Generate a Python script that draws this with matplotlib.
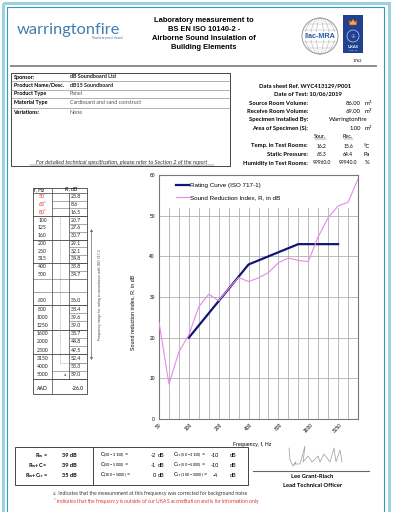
import numpy as np
import matplotlib
matplotlib.use("Agg")
import matplotlib.pyplot as plt
from matplotlib.patches import Rectangle, Circle, Ellipse, Polygon

plt.rcParams["font.family"] = ["Liberation Sans", "DejaVu Sans"]

# page size in pixels
W, H = 395, 512

# --- data ---
freqs = ["50", "63", "80", "100", "125", "160", "200", "250", "315", "400", "500",
         "630", "800", "1000", "1250", "1600", "2000", "2500", "3150", "4000", "5000"]
r_values = [23.8, 8.6, 16.5, 20.7, 27.6, 30.7, 29.1, 32.1, 34.8, 33.8, 34.7,
            36.0, 38.4, 39.6, 39.0, 38.7, 44.8, 49.5, 52.4, 53.3, 59.0]
rating_freqs = ["100", "125", "160", "200", "250", "315", "400", "500",
                "630", "800", "1000", "1250", "1600", "2000", "2500", "3150"]
rating_values = [20, 23, 26, 29, 32, 35, 38, 39, 40, 41, 42, 43, 43, 43, 43, 43]
tick_freqs = ["50", "100", "200", "400", "800", "1600", "3150"]
outside_ukas = ["50", "63", "80"]
bg_corrected = ["5000"]
aad = "-26.0"

sponsor_labels = ["Sponsor:", "Product Name/Desc.", "Product Type", "Material Type", "Variations:"]
sponsor_values = ["dB Soundboard Ltd", "dB15 Soundboard", "Panel",
                  "Cardboard and sand construct", "None"]

room_labels = ["Source Room Volume:", "Receive Room Volume:", "Specimen Installed By:",
               "Area of Specimen (S):"]
room_values = ["86.00", "69.00", "Warringtonfire", "1.00"]
room_units = ["m$^3$", "m$^3$", "", "m$^2$"]
cond_labels = ["Temp. in Test Rooms:", "Static Pressure:", "Humidity in Test Rooms:"]
cond_source = ["16.2", "65.3", "99960.0"]
cond_receive = ["15.6", "64.4", "99940.0"]
cond_units = ["°C", "Pa", "%"]

single_labels = [r"R$_\mathregular{w}$ =", r"R$_\mathregular{w}$+C =", r"R$_\mathregular{w}$+C$_\mathregular{tr}$ ="]
single_values = [39, 39, 35]
c_ranges = ["50 - 3150", "50 - 5000", "100 - 5000"]
c_values = [-2, -1, 0]
ctr_values = [-10, -10, -4]

BODY = ["Lato", "DejaVu Sans"]
GREY = "#555555"

fig = plt.figure(figsize=(W / 100, H / 100), dpi=100)
bg = fig.add_axes([0, 0, 1, 1])
bg.set_xlim(0, W)
bg.set_ylim(H, 0)
bg.axis("off")


def txt(x, y, s, size=4.2, family=BODY, **kw):
    kw.setdefault("va", "center")
    return bg.text(x, y, s, fontsize=size, family=family, **kw)


def hline(y, x0, x1, **kw):
    kw.setdefault("color", GREY)
    kw.setdefault("lw", 0.5)
    bg.plot([x0, x1], [y, y], **kw)


def vline(x, y0, y1, **kw):
    kw.setdefault("color", GREY)
    kw.setdefault("lw", 0.5)
    bg.plot([x, x], [y0, y1], **kw)


# page border
bg.add_patch(Rectangle((3, 3), W - 9, H + 20, fill=False, ec="#9fd0de", lw=2.2))
bg.add_patch(Rectangle((7, 7), W - 18, H + 20, fill=False, ec="#2f9db3", lw=0.8))

# --- header ---
txt(17, 30, "warringtonfire", size=11.8, color="#3f7db3", weight="normal")
txt(123, 38.5, "Proud to be part of  element", size=1.8, color="#4a6a9a", ha="right")

title = ["Laboratory measurement to", "BS EN ISO 10140-2 -",
         "Airborne Sound Insulation of", "Building Elements"]
for i, line in enumerate(title):
    txt(204, 20 + i * 9.2, line, size=5.4, family=["Liberation Sans"], weight="bold",
        ha="center")

# ilac-MRA badge
bg.add_patch(Circle((320, 36), 18, fill=False, ec="#8a8a8a", lw=0.6))
for w in (30, 18, 7):
    bg.add_patch(Ellipse((320, 36), w, 36, fill=False, ec="#a0a0a0", lw=0.3))
for dy in (-12, -6, 6, 12):
    half = np.sqrt(18 ** 2 - dy ** 2)
    hline(36 + dy, 320 - half, 320 + half, color="#a0a0a0", lw=0.3)
bg.add_patch(Rectangle((303, 32), 34, 8, fc="white", ec="none"))
txt(320, 36, "ilac-MRA", size=5.2, family=["Liberation Sans"], weight="bold",
    color="#2456a6", ha="center")

# UKAS badge
bg.add_patch(Rectangle((343, 15), 20, 38, fc="#1f418f", ec="none"))
bg.add_patch(Polygon([(349, 20), (351, 22), (353, 19), (355, 22), (357, 20),
                      (356.5, 25), (349.5, 25)], fc="#e8b04a", ec="#c0392b", lw=0.4))
bg.add_patch(Circle((353, 36), 6, fill=False, ec="#c8d4ee", lw=0.5))
txt(353, 36, "⁜", size=4, color="#c8d4ee", ha="center")
txt(353, 47, "UKAS", size=3.0, color="white", ha="center", weight="bold")
txt(353, 50.5, "TESTING", size=1.6, color="white", ha="center")
txt(357, 61, "1762", size=3.0, ha="center")

hline(66, 11, 376, color="#8c8c8c", lw=1.4)

# --- sponsor box ---
bg.add_patch(Rectangle((11, 72.5), 219, 93.5, fill=False, ec="#444444", lw=0.7))
sponsor_y = [77, 85.3, 93.6, 102.6, 112.5]
for y in (81.2, 89.5, 98, 107.8):
    hline(y, 11, 230, color="#777777", lw=0.4)
for i, (lab, val) in enumerate(zip(sponsor_labels, sponsor_values)):
    txt(13.5, sponsor_y[i], lab, weight="bold", size=3.9)
    txt(70, sponsor_y[i], val, weight="bold" if i < 2 else "normal", size=3.9,
        color="#222222" if i < 2 else "#555555")
txt(122, 162.5, "For detailed technical specification, please refer to Section 2 of the report",
    size=4.1, style="italic", ha="center", color="#333333")
hline(164.6, 30, 214, color="#333333", lw=0.3)

# --- test conditions (right column) ---
txt(305, 86, "Data sheet Ref. WYC413129/P001", weight="bold", ha="center")
txt(308, 94.5, "Date of Test: 10/06/2019", weight="bold", ha="center")
for i, y in enumerate([103.3, 111.7, 120, 128]):
    txt(308, y, room_labels[i], weight="bold", ha="right")
    if room_units[i]:
        txt(361, y, room_values[i], ha="right")
        txt(363.5, y, room_units[i], ha="left")
    else:
        txt(348, y, room_values[i], ha="center")
txt(320, 137, "Sour.", ha="center", size=3.9)
txt(348, 137, "Rec.", ha="center", size=3.9)
hline(139.3, 315, 326, color="#444444", lw=0.3)
hline(139.3, 343.5, 352.5, color="#444444", lw=0.3)
for i, y in enumerate([146, 154.5, 163]):
    txt(308, y, cond_labels[i], weight="bold", ha="right")
    txt(321.5, y, cond_source[i], ha="center", size=3.6)
    txt(348, y, cond_receive[i], ha="center", size=3.6)
    txt(367, y, cond_units[i], ha="center")

# --- frequency table ---
tx0, tx1, tx2, tx3 = 33, 52, 68.7, 87.3
top_rows = [192.7 + 7.8 * i for i in range(12)]       # 50 .. 500 boundaries
low_rows = [305 + 8.22 * i for i in range(10)]        # 800 .. 5000 boundaries
bounds = {}
for i, f in enumerate(freqs[:11]):
    bounds[f] = (top_rows[i], top_rows[i + 1])
bounds["630"] = (291.7, 305)
for i, f in enumerate(freqs[12:]):
    bounds[f] = (low_rows[i], low_rows[i + 1])
t_top, t_bot = 187.7, 394.3
bg.add_patch(Rectangle((tx0, t_top), tx3 - tx0, t_bot - t_top, fill=False,
                       ec="#444444", lw=0.6))
vline(tx1, t_top, t_bot, color="#444444")
vline(tx2, 192.7, 379, color="#444444")
hline(192.7, tx0, tx3, color="#444444")
txt(34.5, 190.2, "f, Hz", size=3.6, family=["Liberation Sans"])
txt(64, 190.2, r"$\it{R}$ ,dB", size=3.6, family=["Liberation Sans"])

dashed_freqs = freqs[3:19]
for i, f in enumerate(freqs):
    y0, y1 = bounds[f]
    yc = (y0 + y1) / 2 + (2 if f == "630" else 0)
    red = f in outside_ukas
    label = f + r"$^{*}$" if red else f
    txt(42.5, yc, label, size=3.7, ha="center", color="#d42020" if red else "#222222")
    txt(70.5, yc, f"{r_values[i]:.1f}", size=3.7, color="#222222")
    left = tx2 if f in dashed_freqs else tx1
    hline(y1, left, tx3, color="#666666", lw=0.4)
    if f in bg_corrected:
        txt(66.5, yc, "≥", size=3.2, ha="right")
for y in (216.1, 239.5, 262.9, 305, 329.7, 354.3, 379):
    hline(y, tx0, tx3, color="#444444", lw=0.6)
hline(278.5, tx0, tx3, color="#666666", lw=0.4)
hline(291.7, tx0, tx3, color="#666666", lw=0.4)
txt(42.5, 388, "AAD", size=3.7, ha="center")
txt(78, 388, aad, size=3.7, ha="center")
y_dash0, y_dash1 = bounds["100"][0], bounds["3150"][1]
vline(60.3, y_dash0, y_dash1, color="#777777", lw=0.4, ls=(0, (1.5, 1.5)))
hline(y_dash1, 60.3, tx3, color="#777777", lw=0.4, ls=(0, (1.5, 1.5)))

bg.annotate("", xy=(91.5, 229), xytext=(91.5, 360),
            arrowprops=dict(arrowstyle="<|-|>", color="#666666", lw=0.5,
                            mutation_scale=3.5, shrinkA=0, shrinkB=0))
txt(100, 294, "Frequency range for rating in accordance with ISO 717-1",
    size=2.6, family=["Liberation Sans"], rotation=90, ha="center", color="#444444")

# --- chart ---
ax = fig.add_axes([159 / W, 1 - 419 / H, 199 / W, 244 / H])
x = np.arange(len(freqs))
rx = [freqs.index(f) for f in rating_freqs]
ax.set_axisbelow(True)
ax.add_patch(Rectangle((0, 0.865), 1, 0.135, transform=ax.transAxes,
                       fc="white", ec="none", zorder=1))
ax.plot(rx, rating_values, color="#141478", lw=1.6, zorder=3,
        label="Rating Curve (ISO 717-1)")
ax.plot(x, r_values, color="#e58ae8", lw=0.8, zorder=3,
        label="Sound Reduction Index, R, in dB")
ax.set_xlim(0, len(freqs) - 1)
ax.set_ylim(0, 60)
ax.set_xticks(x)
ax.set_xticklabels([f if f in tick_freqs else "" for f in freqs], rotation=45,
                   ha="center", fontsize=3.5)
ax.set_yticks(np.arange(0, 61, 10))
ax.tick_params(axis="y", labelsize=3.5, length=0, pad=3)
ax.tick_params(axis="x", length=0, pad=2.5)
ax.grid(True, color="#a8a8a8", lw=0.55)
for sp in ax.spines.values():
    sp.set_color("#777777")
    sp.set_linewidth(0.8)
ax.set_xlabel("Frequency, f, Hz", fontsize=3.8)
ax.xaxis.set_label_coords((252 - 159) / 199, (419 - 442) / 244)
ax.set_ylabel("Sound reduction index, R, in dB", fontsize=3.8)
ax.yaxis.set_label_coords((135 - 159) / 199, (419 - 312) / 244)
leg = ax.legend(loc="upper left", bbox_to_anchor=((176 - 159) / 199, (419 - 183) / 244),
                frameon=False, fontsize=4.5, handlelength=2.0, handletextpad=0.25,
                labelspacing=1.0, borderpad=0, borderaxespad=0)

# --- single number ratings ---
bg.add_patch(Rectangle((15, 446.7), 233, 38.3, fill=False, ec="#444444", lw=0.7))
vline(93.3, 446.7, 485, color="#444444", lw=0.7)
for i, y in enumerate([455.7, 465.7, 475.3]):
    txt(48, y, single_labels[i], ha="right", weight="bold", size=4.0)
    txt(62, y, f"{single_values[i]} dB", weight="bold", size=4.0)
    txt(100, y, r"C$_\mathregular{(" + c_ranges[i] + ")}$ =", size=4.0)
    txt(156, y, f"{c_values[i]}", ha="right", size=4.0)
    txt(158, y, "dB", size=4.0)
    txt(173, y, r"C$_\mathregular{tr\ (" + c_ranges[i] + ")}$ =", size=4.0)
    txt(215, y, f"{ctr_values[i]}", ha="center", size=4.0)
    txt(233, y, "dB", ha="center", size=4.0)

# signature
sig_x = [289, 290, 293, 296, 294, 300, 305, 303, 308, 312, 318, 320, 324, 330, 334, 336, 340, 342]
sig_y = [448, 460, 466, 462, 464, 464, 446, 462, 456, 462, 456, 462, 454, 462, 448, 462, 450, 462]
bg.plot(sig_x, sig_y, color="#9a9a9a", lw=0.5)
hline(470.7, 253, 369, color="#666666", lw=0.8)
txt(312, 477, "Lee Grant-Riach", weight="bold", ha="center", size=4.2)
txt(313, 485.5, "Lead Technical Officer", weight="bold", ha="center", size=4.2)

txt(53, 493.3, "≥  indicates that the measurement at this frequency was corrected for background noise",
    size=3.6, color="#333333")
txt(53, 501.7, r"$^{*}$ indicates that the frequency is outside of our UKAS accreditation and is for information only",
    size=3.6, color="#e03030")

fig.savefig("out.png", dpi=100)
